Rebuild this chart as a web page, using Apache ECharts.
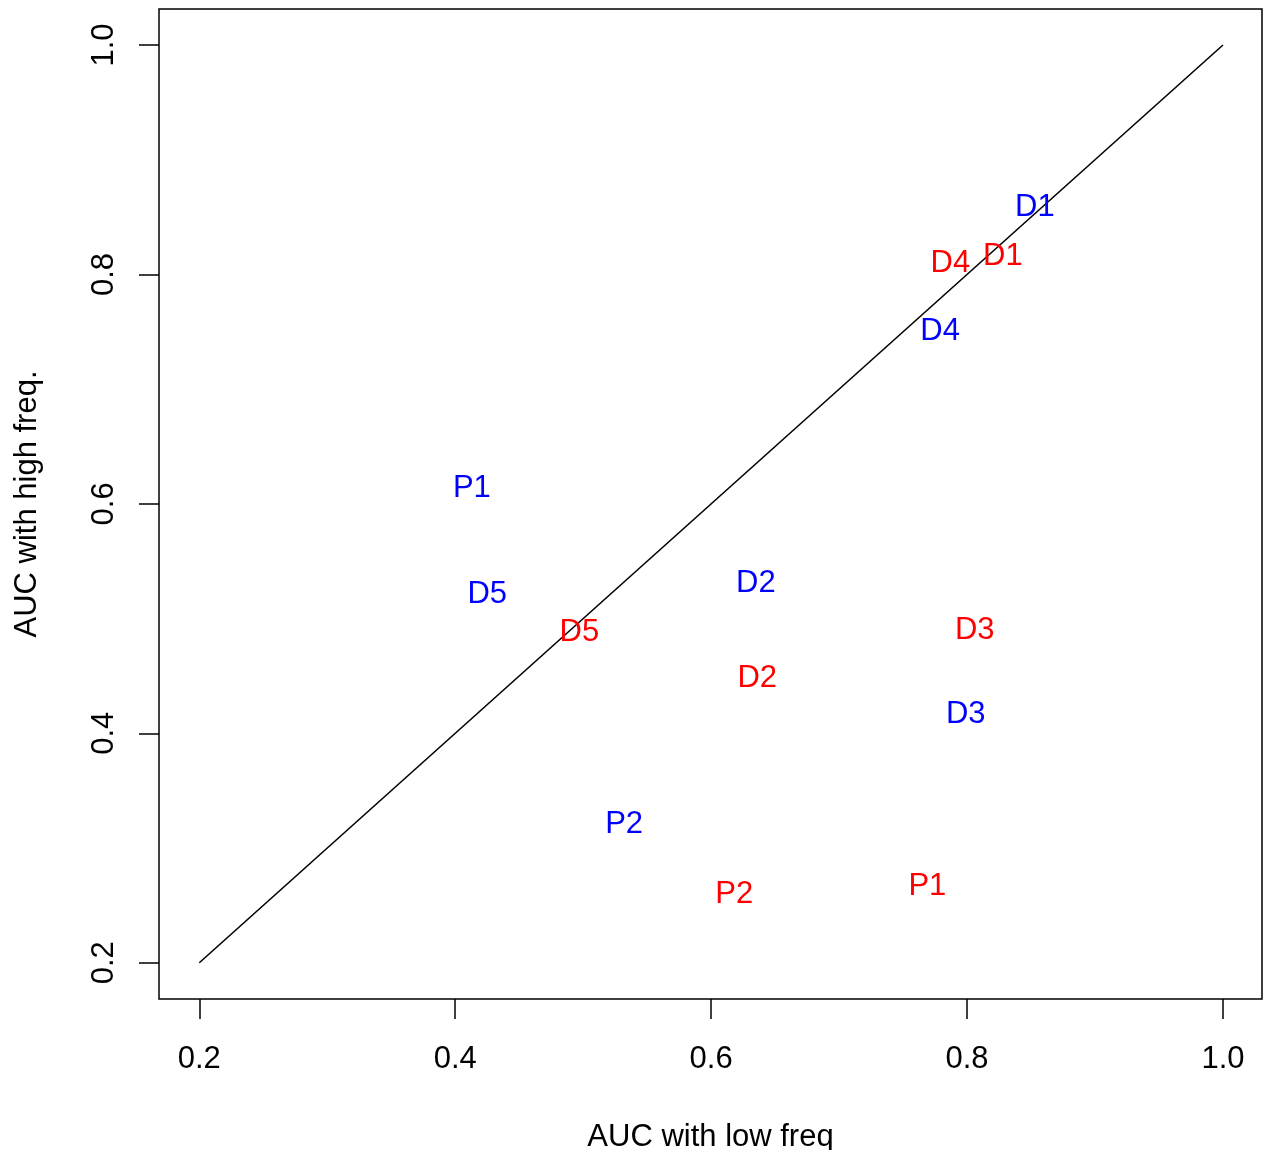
<!DOCTYPE html>
<html>
<head>
<meta charset="utf-8">
<script src="https://cdn.jsdelivr.net/npm/echarts@6/dist/echarts.min.js"></script>
<style>
  html, body { margin: 0; padding: 0; background: #fff; }
  #main { width: 1269px; height: 1150px; }
</style>
</head>
<body>
<div id="main"></div>
<script>
// tick positions on both axes
var tickValues = [0.2, 0.4, 0.6, 0.8, 1.0];

// blue labels (high freq set)
var blueLabels = ['D1', 'D4', 'P1', 'D5', 'D2', 'D3', 'P2'];
var blueX = [0.853, 0.779, 0.413, 0.425, 0.635, 0.799, 0.532];
var blueY = [0.860, 0.752, 0.615, 0.523, 0.532, 0.418, 0.322];

// red labels
var redLabels = ['D1', 'D4', 'D5', 'D3', 'D2', 'P2', 'P1'];
var redX = [0.828, 0.787, 0.497, 0.806, 0.636, 0.618, 0.769];
var redY = [0.817, 0.811, 0.490, 0.491, 0.450, 0.261, 0.268];

// reference diagonal
var diagX = [0.2, 1.0];
var diagY = [0.2, 1.0];

var FONT = '"Liberation Sans", Arial, Helvetica, sans-serif';
var FS = 31;

function toPoints(labels, xs, ys) {
    return labels.map(function (l, i) {
        return { name: l, value: [xs[i], ys[i]] };
    });
}

function labelSeries(labels, xs, ys, color) {
    return {
        type: 'scatter',
        symbolSize: 1,
        itemStyle: { color: 'transparent', opacity: 1 },
        data: toPoints(labels, xs, ys),
        label: {
            show: true,
            position: 'inside',
            offset: [0, 2],
            formatter: '{b}',
            color: color,
            opacity: 1,
            fontFamily: FONT,
            fontSize: FS,
            align: 'center',
            verticalAlign: 'middle'
        },
        emphasis: { disabled: true }
    };
}

var myChart = echarts.init(document.getElementById('main'));
myChart.setOption({
    animation: false,
    grid: {
        left: 159,
        top: 9,
        width: 1103,
        height: 990,
        outerBoundsMode: 'none',
        containLabel: false,
        show: true,
        borderColor: '#000',
        borderWidth: 1.5,
        backgroundColor: 'transparent'
    },
    xAxis: {
        type: 'value',
        min: 0.1685,
        max: 1.0305,
        name: 'AUC with low freq',
        nameLocation: 'middle',
        nameGap: 138,
        nameTextStyle: { color: '#000', fontFamily: FONT, fontSize: FS, verticalAlign: 'middle' },
        axisLine: { show: false },
        splitLine: { show: false },
        axisTick: {
            show: true,
            length: 20,
            customValues: tickValues,
            lineStyle: { color: '#000', width: 1.5 }
        },
        axisLabel: {
            customValues: tickValues,
            margin: 60,
            verticalAlign: 'middle',
            color: '#000',
            fontFamily: FONT,
            fontSize: FS,
            formatter: function (v) { return v.toFixed(1); }
        }
    },
    yAxis: {
        type: 'value',
        min: 0.1684,
        max: 1.0314,
        name: 'AUC with high freq.',
        nameLocation: 'middle',
        nameGap: 132,
        nameTextStyle: { color: '#000', fontFamily: FONT, fontSize: FS, verticalAlign: 'middle' },
        axisLine: { show: false },
        splitLine: { show: false },
        axisTick: {
            show: true,
            length: 20,
            customValues: tickValues,
            lineStyle: { color: '#000', width: 1.5 }
        },
        axisLabel: {
            customValues: tickValues,
            rotate: 90,
            margin: 55,
            align: 'center',
            verticalAlign: 'middle',
            color: '#000',
            fontFamily: FONT,
            fontSize: FS,
            formatter: function (v) { return v.toFixed(1); }
        }
    },
    series: [
        {
            type: 'line',
            data: diagX.map(function (x, i) { return [x, diagY[i]]; }),
            symbol: 'none',
            lineStyle: { color: '#000', width: 1.6 },
            emphasis: { disabled: true },
            z: 1
        },
        labelSeries(blueLabels, blueX, blueY, '#0000ff'),
        labelSeries(redLabels, redX, redY, '#ff0000')
    ]
});
</script>
</body>
</html>
